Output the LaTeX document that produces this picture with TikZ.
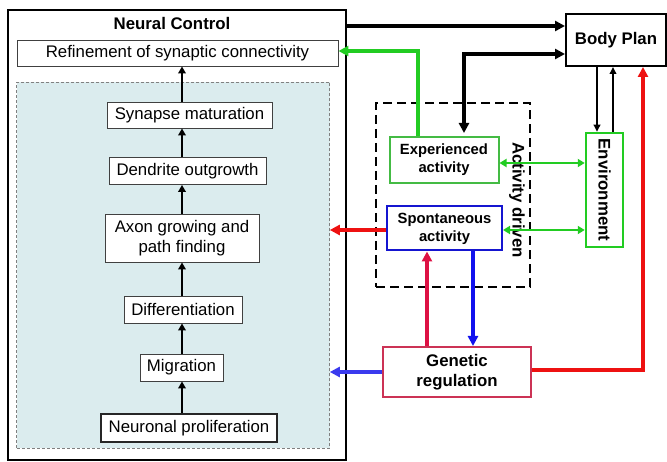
\documentclass[tikz,border=0pt]{standalone}
\usepackage{fontspec}
\setmainfont{Liberation Sans}
\usetikzlibrary{arrows.meta}
\definecolor{shadebg}{HTML}{DBECEE}
\definecolor{gbright}{HTML}{22CC22}
\definecolor{gbox}{HTML}{44BB44}
\definecolor{rarrow}{HTML}{EE1111}
\definecolor{crim}{HTML}{DD1144}
\definecolor{crimbox}{HTML}{CC3355}
\definecolor{barrow}{HTML}{1111EE}
\definecolor{lbarrow}{HTML}{3A3AEE}
\definecolor{bbox}{HTML}{1515D0}
\newcommand\fbig{\fontsize{16.8}{20}\selectfont}
\newcommand\fmid{\fontsize{14.8}{18}\selectfont}
\begin{document}
\begin{tikzpicture}[x=1pt,y=-1pt,
  stage/.style={draw=black!75, line width=0.9pt, fill=white, rectangle, inner sep=0pt, align=center, font=\fbig},
  rbox/.style={draw=#1, line width=2pt, fill=white, rectangle, inner sep=0pt, align=center, font=\fmid\bfseries},
  up/.style={line width=2.8pt, -{Triangle[length=7pt,width=7.5pt]}},
  col/.style={line width=3.6pt, draw=#1, -{Triangle[length=10pt,width=10pt]}},
  gdbl/.style={line width=2.2pt, draw=gbright, {Triangle[length=7pt,width=8pt]}-{Triangle[length=7pt,width=8pt]}},
  thinblk/.style={line width=1.8pt, -{Triangle[length=7pt,width=6.5pt]}}
]
\useasboundingbox (0,0) rectangle (667,462);

% Neural control outer box
\node[draw=black, line width=1.8pt, rectangle, minimum width=338pt, minimum height=450pt, inner sep=0pt] (nc) at (177,235) {};
\node[font=\fbig\bfseries] (nctitle) at (172,23) {Neural Control};
\node[stage, minimum width=321pt, minimum height=26pt] (ref) at (177.5,53) {Refinement of synaptic connectivity};
\node[draw=gray, densely dashed, line width=0.6pt, fill=shadebg, rectangle, minimum width=313pt, minimum height=366pt, inner sep=0pt] (shade) at (173,265) {};

\node[stage, minimum width=165pt, minimum height=26pt] (syn) at (189.5,115) {Synapse maturation};
\node[stage, minimum width=157pt, minimum height=27pt] (den) at (187.5,171) {Dendrite outgrowth};
\node[stage, minimum width=154pt, minimum height=48pt] (axon) at (182,238) {Axon growing and\\path finding};
\node[stage, minimum width=118pt, minimum height=27pt] (diff) at (183,309.5) {Differentiation};
\node[stage, minimum width=83pt, minimum height=27pt] (mig) at (181.5,367.5) {Migration};
\node[stage, draw=black!85, line width=1.6pt, minimum width=176pt, minimum height=28pt] (prol) at (189,428) {Neuronal proliferation};

\coordinate (ax) at (182,0);
\draw[up] (prol.north -| ax) -- (mig.south -| ax);
\draw[up] (mig.north -| ax) -- (diff.south -| ax);
\draw[up] (diff.north -| ax) -- (axon.south -| ax);
\draw[up] (axon.north -| ax) -- (den.south -| ax);
\draw[up] (den.north -| ax) -- (syn.south -| ax);
\draw[up] (syn.north -| ax) -- (ref.south -| ax);

% Right side
\node[draw=black, line width=2pt, rectangle, minimum width=100pt, minimum height=52pt, inner sep=0pt, font=\fbig\bfseries] (bp) at (616,40) {Body Plan};
\node[draw=black, line width=2.6pt, dash pattern=on 9pt off 5pt, rectangle, minimum width=154pt, minimum height=184pt, inner sep=0pt] (ad) at (453,195) {};
\node[font=\fbig\bfseries, inner sep=0pt] (adlabel) at (517,200) {\rotatebox{-90}{Activity driven}};
\node[rbox=gbox, minimum width=109pt, minimum height=46pt] (exp) at (444,160) {Experienced\\activity};
\node[rbox=bbox, minimum width=115pt, minimum height=44pt] (spon) at (444.5,228.5) {Spontaneous\\activity};
\node[draw=gbright, line width=2.5pt, fill=white, rectangle, minimum width=37pt, minimum height=114pt, inner sep=0pt, font=\fbig\bfseries] (env) at (604.5,190) {\rotatebox{-90}{Environment}};
\node[draw=crimbox, line width=2pt, fill=white, rectangle, minimum width=148pt, minimum height=50pt, inner sep=0pt, align=center, font=\fbig\bfseries] (gen) at (457,372) {Genetic\\regulation};

% connectors
\draw[line width=3.6pt, -{Triangle[length=10pt,width=10pt]}] (nc.east |- 0,26) -- (bp.west |- 0,26);
\draw[line width=3.6pt, {Triangle[length=10pt,width=10pt]}-{Triangle[length=10pt,width=10pt]}] (bp.west |- 0,54) -| ([yshift=3pt]exp.north -| 464,0);
\draw[thinblk] (bp.south -| 597,0) -- (env.north -| 597,0);
\draw[thinblk] (env.north -| 613,0) -- (bp.south -| 613,0);
\draw[col=rarrow] (gen.east |- 0,370) -| (bp.south -| 643,0);
\draw[col=gbright] (exp.north -| 418,0) |- (ref.east |- 0,51);
\draw[gdbl] (exp.east |- 0,163) -- (env.west |- 0,163);
\draw[gdbl] (spon.east |- 0,230) -- (env.west |- 0,230);
\draw[col=rarrow] (spon.west |- 0,230) -- (shade.east |- 0,230);
\draw[col=lbarrow] (gen.west |- 0,372) -- (shade.east |- 0,372);
\draw[col=crim] (gen.north -| 427,0) -- (spon.south -| 427,0);
\draw[col=barrow] (spon.south -| 473,0) -- (gen.north -| 473,0);
\end{tikzpicture}
\end{document}
